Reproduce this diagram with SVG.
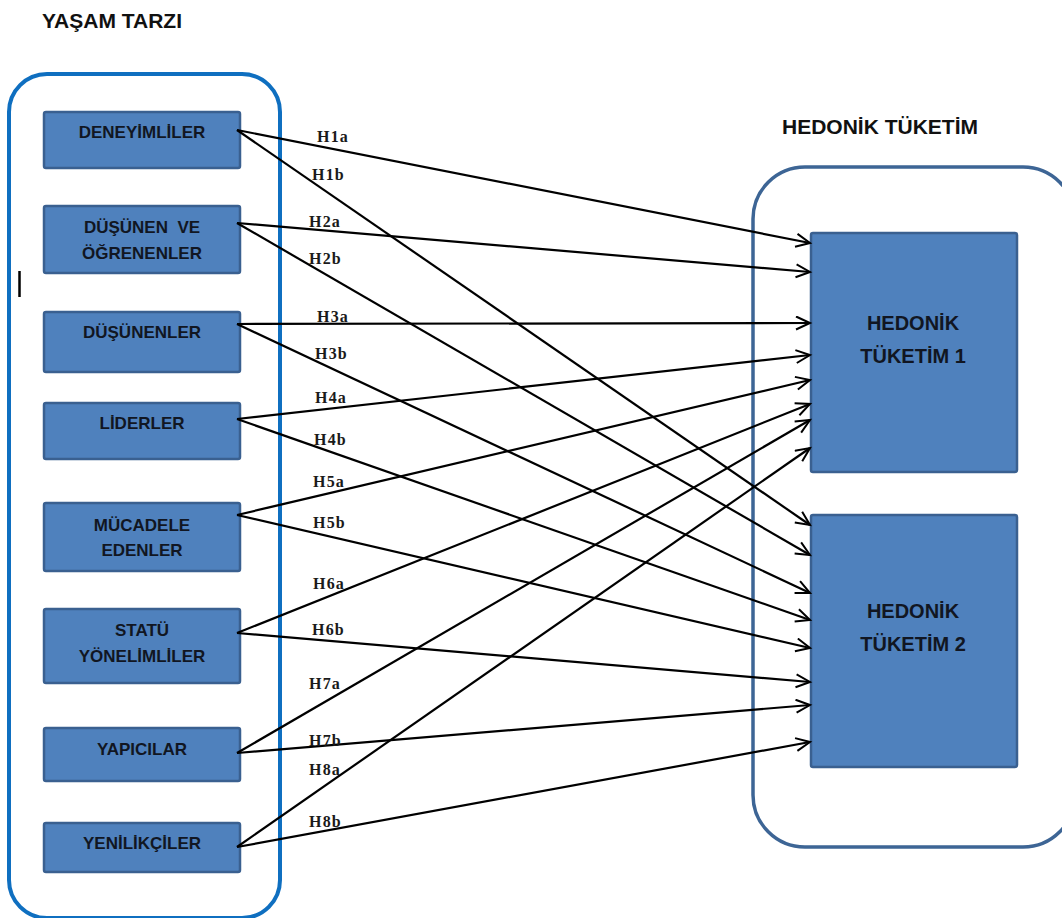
<svg xmlns="http://www.w3.org/2000/svg" width="1062" height="918" viewBox="0 0 1062 918">
<defs>
<style>
.title{font-family:"Liberation Sans",Arial,sans-serif;font-weight:bold;font-size:21px;fill:#111}
.node rect{fill:#4f81bd;stroke:#3a6090;stroke-width:2.5}
.node text{font-family:"Liberation Sans",Arial,sans-serif;font-weight:bold;font-size:17px;fill:#111622;text-anchor:middle}
.big text{font-size:20px}
.lbl{font-family:"Liberation Serif","Times New Roman",serif;font-weight:bold;font-size:16px;letter-spacing:1.2px;fill:#1a1a1a}
.conn line{stroke:#000;stroke-width:2.2;marker-end:url(#arr)}
</style>
<marker id="arr" markerUnits="userSpaceOnUse" markerWidth="18" markerHeight="16" refX="15" refY="7.5" orient="auto">
<path d="M1,1 L15,7.5 L1,14" fill="none" stroke="#000" stroke-width="2"/>
</marker>
</defs>
<rect width="1062" height="918" fill="#fff"/>
<text class="title" x="42" y="28">YAŞAM TARZI</text>
<text class="title" x="782" y="134">HEDONİK TÜKETİM</text>
<rect id="lifestyle-group" x="9" y="74" width="271" height="844" rx="38" fill="none" stroke="#0f6fc0" stroke-width="4"/>
<rect id="hedonic-group" x="753" y="167" width="322" height="680" rx="52" fill="none" stroke="#3d6595" stroke-width="3.5"/>
<line x1="19.5" y1="271" x2="19.5" y2="297" stroke="#000" stroke-width="2.5"/>

<g id="n1" class="node"><rect x="44" y="112" width="196" height="56" rx="2"/><text x="142" y="138">DENEYİMLİLER</text></g>
<g id="n2" class="node"><rect x="44" y="206" width="196" height="67" rx="2"/><text x="142" y="233">DÜŞÜNEN&#160; VE</text><text x="142" y="259">ÖĞRENENLER</text></g>
<g id="n3" class="node"><rect x="44" y="312" width="196" height="60" rx="2"/><text x="142" y="338">DÜŞÜNENLER</text></g>
<g id="n4" class="node"><rect x="44" y="403" width="196" height="56" rx="2"/><text x="142" y="429">LİDERLER</text></g>
<g id="n5" class="node"><rect x="44" y="503" width="196" height="68" rx="2"/><text x="142" y="531">MÜCADELE</text><text x="142" y="556">EDENLER</text></g>
<g id="n6" class="node"><rect x="44" y="609" width="196" height="74" rx="2"/><text x="142" y="636">STATÜ</text><text x="142" y="662">YÖNELİMLİLER</text></g>
<g id="n7" class="node"><rect x="44" y="728" width="196" height="53" rx="2"/><text x="142" y="755">YAPICILAR</text></g>
<g id="n8" class="node"><rect x="44" y="823" width="196" height="49" rx="2"/><text x="142" y="849">YENİLİKÇİLER</text></g>

<g id="h1" class="node big"><rect x="811" y="233" width="206" height="239" rx="2"/><text x="913" y="330">HEDONİK</text><text x="913" y="363">TÜKETİM 1</text></g>
<g id="h2" class="node big"><rect x="811" y="515" width="206" height="252" rx="2"/><text x="913" y="618">HEDONİK</text><text x="913" y="651">TÜKETİM 2</text></g>

<g id="connectors" class="conn">
<line x1="237" y1="130" x2="810" y2="243"/>
<line x1="237" y1="223" x2="810" y2="272"/>
<line x1="237" y1="324" x2="810" y2="323"/>
<line x1="237" y1="419" x2="810" y2="355"/>
<line x1="237" y1="515" x2="810" y2="380"/>
<line x1="237" y1="633" x2="810" y2="404"/>
<line x1="237" y1="753" x2="810" y2="420"/>
<line x1="237" y1="847" x2="810" y2="448"/>
<line x1="237" y1="130" x2="810" y2="525"/>
<line x1="237" y1="223" x2="810" y2="555"/>
<line x1="237" y1="324" x2="810" y2="593"/>
<line x1="237" y1="419" x2="810" y2="620"/>
<line x1="237" y1="515" x2="810" y2="648"/>
<line x1="237" y1="633" x2="810" y2="682"/>
<line x1="237" y1="753" x2="810" y2="705"/>
<line x1="237" y1="847" x2="810" y2="742"/>
</g>

<g id="labels">
<text class="lbl" x="317" y="142">H1a</text>
<text class="lbl" x="312" y="180">H1b</text>
<text class="lbl" x="309" y="227">H2a</text>
<text class="lbl" x="309" y="264">H2b</text>
<text class="lbl" x="317" y="322">H3a</text>
<text class="lbl" x="315" y="359">H3b</text>
<text class="lbl" x="315" y="403">H4a</text>
<text class="lbl" x="314" y="445">H4b</text>
<text class="lbl" x="313" y="487">H5a</text>
<text class="lbl" x="313" y="528">H5b</text>
<text class="lbl" x="313" y="589">H6a</text>
<text class="lbl" x="312" y="635">H6b</text>
<text class="lbl" x="309" y="689">H7a</text>
<text class="lbl" x="309" y="746">H7b</text>
<text class="lbl" x="309" y="775">H8a</text>
<text class="lbl" x="309" y="827">H8b</text>
</g>
</svg>
